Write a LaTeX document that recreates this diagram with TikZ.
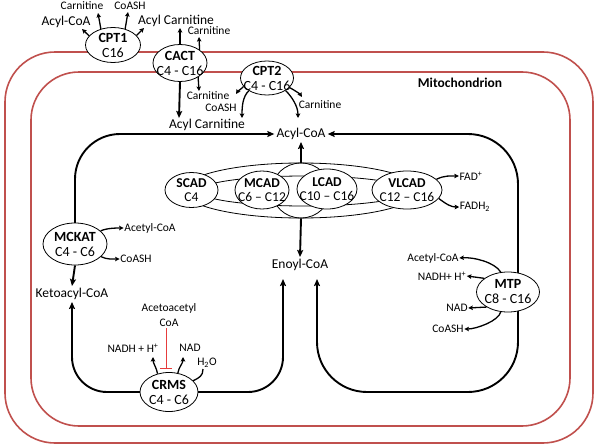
\documentclass[tikz,border=0pt]{standalone}
\usepackage{fontspec}
\setmainfont{Carlito}
\usetikzlibrary{shapes.geometric,arrows.meta,backgrounds,calc}
\definecolor{memred}{RGB}{192,80,77}
\definecolor{inhred}{RGB}{230,60,60}
\begin{document}
\begin{tikzpicture}[x=1pt,y=-1pt,
  enz/.style 2 args={ellipse,draw,fill=white,line width=0.8pt,minimum width=#1,minimum height=#2,inner sep=0pt},
  etext/.style={font=\fontsize{14}{15}\selectfont,align=center,inner sep=0pt},
  atext/.style={font=\fontsize{13.5}{14}\selectfont,align=center,inner sep=0pt},
  big/.style={font=\fontsize{13.5}{15}\selectfont,inner sep=2pt},
  small/.style={font=\fontsize{11.5}{15}\selectfont,inner sep=0.5pt,align=center},
  mem/.style={draw=memred,line width=1.6pt},
  ring/.style={ellipse,draw,line width=0.8pt,inner sep=0pt},
  cyc/.style={line width=1.9pt},
  tip/.style={-{Stealth[length=7pt,width=6pt,inset=1.2pt]}},
  sm/.style={line width=1.3pt,-{Stealth[length=4.5pt,width=4.5pt,inset=0.8pt]}},
]
\useasboundingbox (0,0) rectangle (600,447);
% membranes
\draw[mem,rounded corners=50] (5,52) rectangle (593,443);
\draw[mem,rounded corners=48] (31,72) rectangle (570,426);
\node[font=\fontsize{13.5}{15}\selectfont\bfseries,inner sep=0pt] (mito) at (460,83) {Mitochondrion};

% ACAD complex rings
\node[ring,fill=white,minimum width=236,minimum height=55] (acad) at (301,190.5) {};
\node[ring,minimum width=210,minimum height=30] (acadin) at (304,191) {};
\node[ring,minimum width=58,minimum height=55] (acadmid) at (301,190.5) {};

% enzymes
\node[enz={55}{35}] (cpt1) at (113,45) {};
\node[etext] (cpt1t) at (cpt1) {\textbf{CPT1}\\C16};
\node[enz={54}{37}] (cact) at (180,63) {};
\node[etext] (cactt) at (cact) {\textbf{CACT}\\C4 - C16};
\node[enz={53}{34}] (cpt2) at (267,78) {};
\node[etext] (cpt2t) at (cpt2) {\textbf{CPT2}\\C4 - C16};
\node[enz={53}{35}] (scad) at (191.5,190) {};
\node[atext] (scadt) at (scad) {\textbf{SCAD}\\C4};
\node[enz={54}{38}] (mcad) at (262,190) {};
\node[atext] (mcadt) at (mcad) {\textbf{MCAD}\\C6 – C12};
\node[enz={60}{40}] (lcad) at (327,189) {};
\node[atext] (lcadt) at (lcad) {\textbf{LCAD}\\C10 – C16};
\node[enz={70}{38}] (vlcad) at (407,190) {};
\node[atext] (vlcadt) at (vlcad) {\textbf{VLCAD}\\C12 – C16};
\node[enz={64}{42}] (mckat) at (75,244) {};
\node[etext] (mckatt) at (mckat) {\textbf{MCKAT}\\C4 - C6};
\node[enz={58}{39}] (crms) at (169,392) {};
\node[etext] (crmst) at (crms) {\textbf{CRMS}\\C4 - C6};
\node[enz={63}{40}] (mtp) at (508,292) {};
\node[etext] (mtpt) at (mtp) {\textbf{MTP}\\C8 - C16};

% metabolites
\node[big] (acoa1) at (66,22) {Acyl-CoA};
\node[big] (acar1) at (176,21) {Acyl Carnitine};
\node[small] (carn1) at (82,6) {Carnitine};
\node[small] (coash1) at (130,6) {CoASH};
\node[small] (carn2) at (209,31) {Carnitine};
\node[small] (carn3) at (208,96) {Carnitine};
\node[small] (coash2) at (221,108) {CoASH};
\node[big] (acar2) at (207,125) {Acyl Carnitine};
\node[small] (carn4) at (320,105) {Carnitine};
\node[big] (acylcoa) at (301,134) {Acyl-CoA};
\node[small] (fad) at (471,176) {FAD\textsuperscript{+}};
\node[small] (fadh) at (475,207) {FADH\textsubscript{2}};
\node[big] (enoyl) at (300,265) {Enoyl-CoA};
\node[small] (acetyl1) at (150,228) {Acetyl-CoA};
\node[small] (coash3) at (136,259) {CoASH};
\node[big] (keto) at (72,294) {Ketoacyl-CoA};
\node[small] (acetoac) at (169,315) {Acetoacetyl\\CoA};
\node[small] (nadh1) at (133,348) {NADH + H\textsuperscript{+}};
\node[small] (nad1) at (190,348) {NAD};
\node[small] (h2o) at (207,363) {H\textsubscript{2}O};
\node[small] (acetyl2) at (433,258) {Acetyl-CoA};
\node[small] (nadh2) at (442,276) {NADH+ H\textsuperscript{+}};
\node[small] (nad2) at (457,308) {NAD};
\node[small] (coash4) at (448,329) {CoASH};

\coordinate (e1) at (283,279);
\coordinate (e2) at (317,279);

% main cycle (behind enzymes)
\begin{scope}[on background layer]
\draw[cyc,tip,rounded corners=45] (mckat.center) |- (acylcoa.west);
\draw[cyc,{Stealth[length=7pt,width=6pt,inset=1.2pt]}-{Stealth[length=7pt,width=6pt,inset=1.2pt]},rounded corners=50]
  (e2) -- (317,392) -- (518,392) -- (518,134) -- (acylcoa.east);
\draw[cyc,tip,rounded corners=35] (crms.center) -| (keto.south);
\draw[cyc,tip,rounded corners=35] (crms.center) -| (e1);
\end{scope}

\draw[cyc,tip] (acad.north) -- (acylcoa.south);
\draw[cyc,tip] (acad.south) -- (enoyl.north);
\draw[cyc,tip] (mckat.south) -- (keto.north);

% CPT1
\draw[sm] (cpt1.159) -- (82,29);
\draw[sm] (cpt1.127) -- (98,13);
\draw[sm] (cpt1.53) -- (128,12);
\draw[sm] (cpt1.22) -- (144,28);
% CACT
\draw[sm] (cact.north) -- (180,28);
\draw[sm] (cact.34) -- (199,37);
\draw[cyc,tip] (cact.south) -- (179,118);
\draw[sm] (cact.-38) -- (199,91);
% CPT2
\draw[sm] (cpt2.200) .. controls +(-3,3) and +(2,-3) .. (236,94);
\draw[sm] (cpt2.215) .. controls +(-6,6) and +(0,-12) .. (242,118);
\draw[sm] (cpt2.-23) .. controls +(4,2) and +(-2,-3) .. (302,97);
\draw[sm] (cpt2.-34) .. controls +(6,6) and +(0,-12) .. (298,118);
% VLCAD
\draw[sm] (vlcad.20) .. controls +(8,-4) and +(-8,0) .. (fad.west);
\draw[sm] (vlcad.-15) .. controls +(8,6) and +(-8,0) .. (fadh.west);
% MCKAT
\draw[sm] (mckat.27) .. controls +(6,-3) and +(-6,0) .. (acetyl1.west);
\draw[sm] (mckat.-26) .. controls +(6,3) and +(-6,0) .. (coash3.west);
% CRMS
\draw[sm] (crms.122) .. controls +(-1,-6) and +(0,6) .. (153,357);
\draw[sm] (crms.65) .. controls +(1,-6) and +(0,6) .. (183,357);
\draw[line width=1.3pt] (crms.25) .. controls +(6,-3) and +(0,7) .. (203,369);
\draw[draw=inhred,line width=1pt,-{Bar[width=12pt,line width=1.3pt]}] ($(acetoac.south)+(-3,1)$) -- ($(crms.north)+(-3,-3)$);
% MTP
\draw[sm] (mtp.110) .. controls +(-6,-10) and +(14,-1) .. (acetyl2.east);
\draw[sm] (mtp.150) -- (nadh2.east);
\draw[sm] (mtp.215) -- (nad2.east);
\draw[sm] (mtp.250) .. controls +(-2,9) and +(12,0) .. (coash4.east);
\end{tikzpicture}
\end{document}
